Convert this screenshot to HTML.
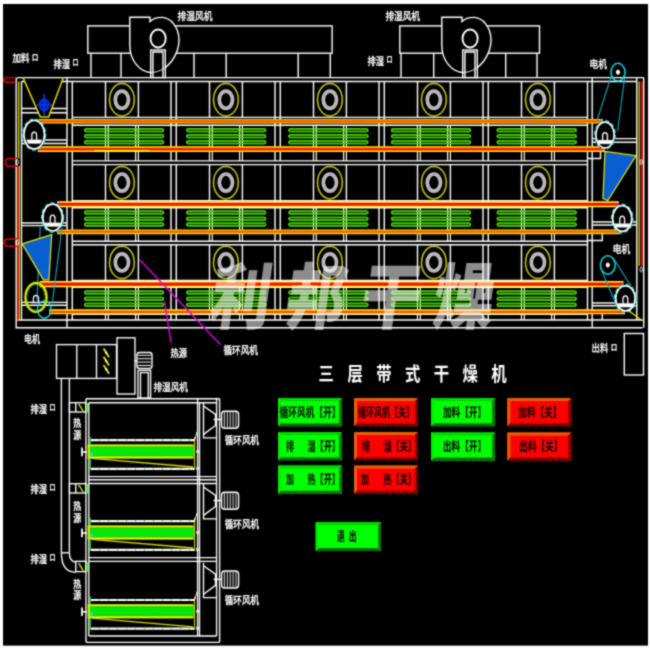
<!DOCTYPE html>
<html lang="zh"><head><meta charset="utf-8"><title>三层带式干燥机</title>
<style>
html,body{margin:0;padding:0;background:#fff;}
body{width:650px;height:650px;overflow:hidden;}
svg{display:block;}
</style></head><body>
<svg width="650" height="650" viewBox="0 0 650 650">
<defs><filter id="soft" color-interpolation-filters="sRGB" x="0" y="0" width="650" height="650" filterUnits="userSpaceOnUse"><feConvolveMatrix order="3" kernelMatrix="1 2 1 2 8 2 1 2 1" edgeMode="duplicate" preserveAlpha="true"/></filter></defs>
<rect x="-5" y="-5" width="660" height="660" fill="#fff"/>
<g filter="url(#soft)">
<rect x="-5" y="-5" width="660" height="660" fill="#fff"/>
<rect x="3" y="4" width="645" height="641.6" fill="#000"/>
<rect x="87.8" y="25.9" width="244.3" height="27.3" stroke="#fff" stroke-width="1.4" fill="none" />
<line x1="91.0" y1="53.2" x2="91.0" y2="77.6" stroke="#fff" stroke-width="1.4" />
<line x1="330.3" y1="53.2" x2="330.3" y2="77.6" stroke="#fff" stroke-width="1.4" />
<line x1="121.0" y1="53.2" x2="121.0" y2="77.6" stroke="#fff" stroke-width="1.4" />
<line x1="194.0" y1="53.2" x2="194.0" y2="77.6" stroke="#fff" stroke-width="1.4" />
<line x1="226.2" y1="53.2" x2="226.2" y2="77.6" stroke="#fff" stroke-width="1.4" />
<line x1="298.2" y1="53.2" x2="298.2" y2="77.6" stroke="#fff" stroke-width="1.4" />
<path d="M129.8,17.2 H150.0 V21.5 C152.5,19 157.0,17.4 161.7,17.4 C170.5,17.4 179.0,27 179.0,40 C179.0,52 172.0,63 164.2,68.3 C160.0,71 156.0,72.5 151.9,72.5 C141.0,72.5 129.8,62 129.8,45 Z" stroke="#fff" stroke-width="1.4" fill="#000" />
<ellipse cx="158.1" cy="38.5" rx="7.6" ry="9.0" stroke="#fff" stroke-width="1.9" fill="none" />
<rect x="150.7" y="50.0" width="14.6" height="27.6" stroke="#fff" stroke-width="1.4" fill="#000" />
<path d="M152.9,77.6 V52 H163.0 V77.6" stroke="#fff" stroke-width="1.4" fill="none" />
<path d="M150.7,72.5 C155.0,72.6 160.0,71.2 165.3,67.6" stroke="#fff" stroke-width="0.9" fill="none" />
<rect x="399.8" y="25.9" width="139.7" height="27.3" stroke="#fff" stroke-width="1.4" fill="none" />
<line x1="401.0" y1="53.2" x2="401.0" y2="77.6" stroke="#fff" stroke-width="1.4" />
<line x1="537.0" y1="53.2" x2="537.0" y2="77.6" stroke="#fff" stroke-width="1.4" />
<line x1="433.7" y1="53.2" x2="433.7" y2="77.6" stroke="#fff" stroke-width="1.4" />
<line x1="505.7" y1="53.2" x2="505.7" y2="77.6" stroke="#fff" stroke-width="1.4" />
<path d="M441.8,17.2 H462.0 V21.5 C464.5,19 469.0,17.4 473.7,17.4 C482.5,17.4 491.0,27 491.0,40 C491.0,52 484.0,63 476.2,68.3 C472.0,71 468.0,72.5 463.9,72.5 C453.0,72.5 441.8,62 441.8,45 Z" stroke="#fff" stroke-width="1.4" fill="#000" />
<ellipse cx="470.1" cy="38.5" rx="7.6" ry="9.0" stroke="#fff" stroke-width="1.9" fill="none" />
<rect x="462.7" y="50.0" width="14.6" height="27.6" stroke="#fff" stroke-width="1.4" fill="#000" />
<path d="M464.9,77.6 V52 H475.0 V77.6" stroke="#fff" stroke-width="1.4" fill="none" />
<path d="M462.7,72.5 C467.0,72.6 472.0,71.2 477.3,67.6" stroke="#fff" stroke-width="0.9" fill="none" />
<path d="M643.7,77.6 H18.2 Q16.2,77.6 16.2,79.6 V327.8 H642.5" stroke="#fff" stroke-width="1.4" fill="none" />
<line x1="21.5" y1="81.5" x2="636.8" y2="81.5" stroke="#fff" stroke-width="1.4" />
<line x1="21.5" y1="81.5" x2="21.5" y2="320.0" stroke="#fff" stroke-width="1.4" />
<line x1="67.0" y1="77.6" x2="67.0" y2="327.8" stroke="#fff" stroke-width="1.4" />
<line x1="72.3" y1="81.5" x2="72.3" y2="320.0" stroke="#fff" stroke-width="1.4" />
<line x1="16.2" y1="320.0" x2="642.5" y2="320.0" stroke="#fff" stroke-width="1.4" />
<line x1="636.8" y1="77.6" x2="636.8" y2="320.0" stroke="#fff" stroke-width="1.4" />
<line x1="643.7" y1="77.6" x2="643.7" y2="327.8" stroke="#fff" stroke-width="1.4" />
<line x1="587.5" y1="81.5" x2="587.5" y2="320.0" stroke="#fff" stroke-width="1.4" />
<line x1="592.2" y1="77.6" x2="592.2" y2="327.8" stroke="#fff" stroke-width="1.4" />
<line x1="72.3" y1="117.4" x2="587.5" y2="117.4" stroke="#fff" stroke-width="1.4" />
<line x1="72.3" y1="125.2" x2="587.5" y2="125.2" stroke="#fff" stroke-width="1.4" />
<line x1="171.0" y1="81.5" x2="171.0" y2="160.9" stroke="#fff" stroke-width="1.4" />
<line x1="105.5" y1="81.5" x2="105.5" y2="117.4" stroke="#fff" stroke-width="1.4" />
<line x1="138.4" y1="81.5" x2="138.4" y2="117.4" stroke="#fff" stroke-width="1.4" />
<ellipse cx="121.9" cy="99.7" rx="12.4" ry="16.2" stroke="#c8c800" stroke-width="1.5" fill="none" />
<ellipse cx="121.9" cy="99.7" rx="6.6" ry="8.6" stroke="#c4c4c4" stroke-width="3.7" fill="none" />
<ellipse cx="121.9" cy="99.7" rx="6.6" ry="8.6" stroke="#9a9a9a" stroke-width="1.2" fill="none" stroke-dasharray="1.2 1.2"/>
<rect x="84.6" y="128.8" width="79.0" height="2.7" stroke="#48d800" stroke-width="1.25" fill="#124400" rx="1.35"/>
<rect x="84.6" y="134.8" width="79.0" height="2.7" stroke="#48d800" stroke-width="1.25" fill="#124400" rx="1.35"/>
<rect x="84.6" y="140.8" width="79.0" height="2.7" stroke="#48d800" stroke-width="1.25" fill="#124400" rx="1.35"/>
<line x1="105.5" y1="125.2" x2="105.5" y2="160.9" stroke="#fff" stroke-width="1.2" />
<line x1="108.3" y1="125.2" x2="108.3" y2="160.9" stroke="#fff" stroke-width="1.2" />
<line x1="135.6" y1="125.2" x2="135.6" y2="160.9" stroke="#fff" stroke-width="1.2" />
<line x1="138.4" y1="125.2" x2="138.4" y2="160.9" stroke="#fff" stroke-width="1.2" />
<rect x="84.6" y="128.8" width="79.0" height="2.7" stroke="#48d800" stroke-width="1.25" fill="none" rx="1.35"/>
<rect x="84.6" y="134.8" width="79.0" height="2.7" stroke="#48d800" stroke-width="1.25" fill="none" rx="1.35"/>
<rect x="84.6" y="140.8" width="79.0" height="2.7" stroke="#48d800" stroke-width="1.25" fill="none" rx="1.35"/>
<line x1="176.3" y1="81.5" x2="176.3" y2="160.9" stroke="#fff" stroke-width="1.4" />
<line x1="275.0" y1="81.5" x2="275.0" y2="160.9" stroke="#fff" stroke-width="1.4" />
<line x1="209.5" y1="81.5" x2="209.5" y2="117.4" stroke="#fff" stroke-width="1.4" />
<line x1="242.4" y1="81.5" x2="242.4" y2="117.4" stroke="#fff" stroke-width="1.4" />
<ellipse cx="225.9" cy="99.7" rx="12.4" ry="16.2" stroke="#c8c800" stroke-width="1.5" fill="none" />
<ellipse cx="225.9" cy="99.7" rx="6.6" ry="8.6" stroke="#c4c4c4" stroke-width="3.7" fill="none" />
<ellipse cx="225.9" cy="99.7" rx="6.6" ry="8.6" stroke="#9a9a9a" stroke-width="1.2" fill="none" stroke-dasharray="1.2 1.2"/>
<rect x="186.7" y="128.8" width="79.0" height="2.7" stroke="#48d800" stroke-width="1.25" fill="#124400" rx="1.35"/>
<rect x="186.7" y="134.8" width="79.0" height="2.7" stroke="#48d800" stroke-width="1.25" fill="#124400" rx="1.35"/>
<rect x="186.7" y="140.8" width="79.0" height="2.7" stroke="#48d800" stroke-width="1.25" fill="#124400" rx="1.35"/>
<line x1="209.5" y1="125.2" x2="209.5" y2="160.9" stroke="#fff" stroke-width="1.2" />
<line x1="212.3" y1="125.2" x2="212.3" y2="160.9" stroke="#fff" stroke-width="1.2" />
<line x1="239.6" y1="125.2" x2="239.6" y2="160.9" stroke="#fff" stroke-width="1.2" />
<line x1="242.4" y1="125.2" x2="242.4" y2="160.9" stroke="#fff" stroke-width="1.2" />
<rect x="186.7" y="128.8" width="79.0" height="2.7" stroke="#48d800" stroke-width="1.25" fill="none" rx="1.35"/>
<rect x="186.7" y="134.8" width="79.0" height="2.7" stroke="#48d800" stroke-width="1.25" fill="none" rx="1.35"/>
<rect x="186.7" y="140.8" width="79.0" height="2.7" stroke="#48d800" stroke-width="1.25" fill="none" rx="1.35"/>
<line x1="280.3" y1="81.5" x2="280.3" y2="160.9" stroke="#fff" stroke-width="1.4" />
<line x1="379.0" y1="81.5" x2="379.0" y2="160.9" stroke="#fff" stroke-width="1.4" />
<line x1="313.5" y1="81.5" x2="313.5" y2="117.4" stroke="#fff" stroke-width="1.4" />
<line x1="346.4" y1="81.5" x2="346.4" y2="117.4" stroke="#fff" stroke-width="1.4" />
<ellipse cx="329.9" cy="99.7" rx="12.4" ry="16.2" stroke="#c8c800" stroke-width="1.5" fill="none" />
<ellipse cx="329.9" cy="99.7" rx="6.6" ry="8.6" stroke="#c4c4c4" stroke-width="3.7" fill="none" />
<ellipse cx="329.9" cy="99.7" rx="6.6" ry="8.6" stroke="#9a9a9a" stroke-width="1.2" fill="none" stroke-dasharray="1.2 1.2"/>
<rect x="288.9" y="128.8" width="79.0" height="2.7" stroke="#48d800" stroke-width="1.25" fill="#124400" rx="1.35"/>
<rect x="288.9" y="134.8" width="79.0" height="2.7" stroke="#48d800" stroke-width="1.25" fill="#124400" rx="1.35"/>
<rect x="288.9" y="140.8" width="79.0" height="2.7" stroke="#48d800" stroke-width="1.25" fill="#124400" rx="1.35"/>
<line x1="313.5" y1="125.2" x2="313.5" y2="160.9" stroke="#fff" stroke-width="1.2" />
<line x1="316.3" y1="125.2" x2="316.3" y2="160.9" stroke="#fff" stroke-width="1.2" />
<line x1="343.6" y1="125.2" x2="343.6" y2="160.9" stroke="#fff" stroke-width="1.2" />
<line x1="346.4" y1="125.2" x2="346.4" y2="160.9" stroke="#fff" stroke-width="1.2" />
<rect x="288.9" y="128.8" width="79.0" height="2.7" stroke="#48d800" stroke-width="1.25" fill="none" rx="1.35"/>
<rect x="288.9" y="134.8" width="79.0" height="2.7" stroke="#48d800" stroke-width="1.25" fill="none" rx="1.35"/>
<rect x="288.9" y="140.8" width="79.0" height="2.7" stroke="#48d800" stroke-width="1.25" fill="none" rx="1.35"/>
<line x1="384.3" y1="81.5" x2="384.3" y2="160.9" stroke="#fff" stroke-width="1.4" />
<line x1="483.0" y1="81.5" x2="483.0" y2="160.9" stroke="#fff" stroke-width="1.4" />
<line x1="417.5" y1="81.5" x2="417.5" y2="117.4" stroke="#fff" stroke-width="1.4" />
<line x1="450.4" y1="81.5" x2="450.4" y2="117.4" stroke="#fff" stroke-width="1.4" />
<ellipse cx="433.9" cy="99.7" rx="12.4" ry="16.2" stroke="#c8c800" stroke-width="1.5" fill="none" />
<ellipse cx="433.9" cy="99.7" rx="6.6" ry="8.6" stroke="#c4c4c4" stroke-width="3.7" fill="none" />
<ellipse cx="433.9" cy="99.7" rx="6.6" ry="8.6" stroke="#9a9a9a" stroke-width="1.2" fill="none" stroke-dasharray="1.2 1.2"/>
<rect x="391.5" y="128.8" width="79.0" height="2.7" stroke="#48d800" stroke-width="1.25" fill="#124400" rx="1.35"/>
<rect x="391.5" y="134.8" width="79.0" height="2.7" stroke="#48d800" stroke-width="1.25" fill="#124400" rx="1.35"/>
<rect x="391.5" y="140.8" width="79.0" height="2.7" stroke="#48d800" stroke-width="1.25" fill="#124400" rx="1.35"/>
<line x1="417.5" y1="125.2" x2="417.5" y2="160.9" stroke="#fff" stroke-width="1.2" />
<line x1="420.3" y1="125.2" x2="420.3" y2="160.9" stroke="#fff" stroke-width="1.2" />
<line x1="447.6" y1="125.2" x2="447.6" y2="160.9" stroke="#fff" stroke-width="1.2" />
<line x1="450.4" y1="125.2" x2="450.4" y2="160.9" stroke="#fff" stroke-width="1.2" />
<rect x="391.5" y="128.8" width="79.0" height="2.7" stroke="#48d800" stroke-width="1.25" fill="none" rx="1.35"/>
<rect x="391.5" y="134.8" width="79.0" height="2.7" stroke="#48d800" stroke-width="1.25" fill="none" rx="1.35"/>
<rect x="391.5" y="140.8" width="79.0" height="2.7" stroke="#48d800" stroke-width="1.25" fill="none" rx="1.35"/>
<line x1="488.3" y1="81.5" x2="488.3" y2="160.9" stroke="#fff" stroke-width="1.4" />
<line x1="521.5" y1="81.5" x2="521.5" y2="117.4" stroke="#fff" stroke-width="1.4" />
<line x1="554.4" y1="81.5" x2="554.4" y2="117.4" stroke="#fff" stroke-width="1.4" />
<ellipse cx="537.9" cy="99.7" rx="12.4" ry="16.2" stroke="#c8c800" stroke-width="1.5" fill="none" />
<ellipse cx="537.9" cy="99.7" rx="6.6" ry="8.6" stroke="#c4c4c4" stroke-width="3.7" fill="none" />
<ellipse cx="537.9" cy="99.7" rx="6.6" ry="8.6" stroke="#9a9a9a" stroke-width="1.2" fill="none" stroke-dasharray="1.2 1.2"/>
<rect x="497.2" y="128.8" width="79.0" height="2.7" stroke="#48d800" stroke-width="1.25" fill="#124400" rx="1.35"/>
<rect x="497.2" y="134.8" width="79.0" height="2.7" stroke="#48d800" stroke-width="1.25" fill="#124400" rx="1.35"/>
<rect x="497.2" y="140.8" width="79.0" height="2.7" stroke="#48d800" stroke-width="1.25" fill="#124400" rx="1.35"/>
<line x1="521.5" y1="125.2" x2="521.5" y2="160.9" stroke="#fff" stroke-width="1.2" />
<line x1="524.3" y1="125.2" x2="524.3" y2="160.9" stroke="#fff" stroke-width="1.2" />
<line x1="551.6" y1="125.2" x2="551.6" y2="160.9" stroke="#fff" stroke-width="1.2" />
<line x1="554.4" y1="125.2" x2="554.4" y2="160.9" stroke="#fff" stroke-width="1.2" />
<rect x="497.2" y="128.8" width="79.0" height="2.7" stroke="#48d800" stroke-width="1.25" fill="none" rx="1.35"/>
<rect x="497.2" y="134.8" width="79.0" height="2.7" stroke="#48d800" stroke-width="1.25" fill="none" rx="1.35"/>
<rect x="497.2" y="140.8" width="79.0" height="2.7" stroke="#48d800" stroke-width="1.25" fill="none" rx="1.35"/>
<line x1="72.3" y1="160.9" x2="587.5" y2="160.9" stroke="#fff" stroke-width="1.4" />
<line x1="72.3" y1="164.6" x2="587.5" y2="164.6" stroke="#fff" stroke-width="1.4" />
<line x1="72.3" y1="200.8" x2="587.5" y2="200.8" stroke="#fff" stroke-width="1.4" />
<line x1="72.3" y1="207.7" x2="587.5" y2="207.7" stroke="#fff" stroke-width="1.4" />
<line x1="171.0" y1="164.6" x2="171.0" y2="241.2" stroke="#fff" stroke-width="1.4" />
<line x1="105.5" y1="164.6" x2="105.5" y2="200.8" stroke="#fff" stroke-width="1.4" />
<line x1="138.4" y1="164.6" x2="138.4" y2="200.8" stroke="#fff" stroke-width="1.4" />
<ellipse cx="121.9" cy="182.6" rx="12.4" ry="16.2" stroke="#c8c800" stroke-width="1.5" fill="none" />
<ellipse cx="121.9" cy="182.6" rx="6.6" ry="8.6" stroke="#c4c4c4" stroke-width="3.7" fill="none" />
<ellipse cx="121.9" cy="182.6" rx="6.6" ry="8.6" stroke="#9a9a9a" stroke-width="1.2" fill="none" stroke-dasharray="1.2 1.2"/>
<rect x="84.6" y="211.2" width="79.0" height="2.7" stroke="#48d800" stroke-width="1.25" fill="#124400" rx="1.35"/>
<rect x="84.6" y="217.3" width="79.0" height="2.7" stroke="#48d800" stroke-width="1.25" fill="#124400" rx="1.35"/>
<rect x="84.6" y="223.2" width="79.0" height="2.7" stroke="#48d800" stroke-width="1.25" fill="#124400" rx="1.35"/>
<line x1="105.5" y1="207.7" x2="105.5" y2="241.2" stroke="#fff" stroke-width="1.2" />
<line x1="108.3" y1="207.7" x2="108.3" y2="241.2" stroke="#fff" stroke-width="1.2" />
<line x1="135.6" y1="207.7" x2="135.6" y2="241.2" stroke="#fff" stroke-width="1.2" />
<line x1="138.4" y1="207.7" x2="138.4" y2="241.2" stroke="#fff" stroke-width="1.2" />
<rect x="84.6" y="211.2" width="79.0" height="2.7" stroke="#48d800" stroke-width="1.25" fill="none" rx="1.35"/>
<rect x="84.6" y="217.3" width="79.0" height="2.7" stroke="#48d800" stroke-width="1.25" fill="none" rx="1.35"/>
<rect x="84.6" y="223.2" width="79.0" height="2.7" stroke="#48d800" stroke-width="1.25" fill="none" rx="1.35"/>
<line x1="176.3" y1="164.6" x2="176.3" y2="241.2" stroke="#fff" stroke-width="1.4" />
<line x1="275.0" y1="164.6" x2="275.0" y2="241.2" stroke="#fff" stroke-width="1.4" />
<line x1="209.5" y1="164.6" x2="209.5" y2="200.8" stroke="#fff" stroke-width="1.4" />
<line x1="242.4" y1="164.6" x2="242.4" y2="200.8" stroke="#fff" stroke-width="1.4" />
<ellipse cx="225.9" cy="182.6" rx="12.4" ry="16.2" stroke="#c8c800" stroke-width="1.5" fill="none" />
<ellipse cx="225.9" cy="182.6" rx="6.6" ry="8.6" stroke="#c4c4c4" stroke-width="3.7" fill="none" />
<ellipse cx="225.9" cy="182.6" rx="6.6" ry="8.6" stroke="#9a9a9a" stroke-width="1.2" fill="none" stroke-dasharray="1.2 1.2"/>
<rect x="186.7" y="211.2" width="79.0" height="2.7" stroke="#48d800" stroke-width="1.25" fill="#124400" rx="1.35"/>
<rect x="186.7" y="217.3" width="79.0" height="2.7" stroke="#48d800" stroke-width="1.25" fill="#124400" rx="1.35"/>
<rect x="186.7" y="223.2" width="79.0" height="2.7" stroke="#48d800" stroke-width="1.25" fill="#124400" rx="1.35"/>
<line x1="209.5" y1="207.7" x2="209.5" y2="241.2" stroke="#fff" stroke-width="1.2" />
<line x1="212.3" y1="207.7" x2="212.3" y2="241.2" stroke="#fff" stroke-width="1.2" />
<line x1="239.6" y1="207.7" x2="239.6" y2="241.2" stroke="#fff" stroke-width="1.2" />
<line x1="242.4" y1="207.7" x2="242.4" y2="241.2" stroke="#fff" stroke-width="1.2" />
<rect x="186.7" y="211.2" width="79.0" height="2.7" stroke="#48d800" stroke-width="1.25" fill="none" rx="1.35"/>
<rect x="186.7" y="217.3" width="79.0" height="2.7" stroke="#48d800" stroke-width="1.25" fill="none" rx="1.35"/>
<rect x="186.7" y="223.2" width="79.0" height="2.7" stroke="#48d800" stroke-width="1.25" fill="none" rx="1.35"/>
<line x1="280.3" y1="164.6" x2="280.3" y2="241.2" stroke="#fff" stroke-width="1.4" />
<line x1="379.0" y1="164.6" x2="379.0" y2="241.2" stroke="#fff" stroke-width="1.4" />
<line x1="313.5" y1="164.6" x2="313.5" y2="200.8" stroke="#fff" stroke-width="1.4" />
<line x1="346.4" y1="164.6" x2="346.4" y2="200.8" stroke="#fff" stroke-width="1.4" />
<ellipse cx="329.9" cy="182.6" rx="12.4" ry="16.2" stroke="#c8c800" stroke-width="1.5" fill="none" />
<ellipse cx="329.9" cy="182.6" rx="6.6" ry="8.6" stroke="#c4c4c4" stroke-width="3.7" fill="none" />
<ellipse cx="329.9" cy="182.6" rx="6.6" ry="8.6" stroke="#9a9a9a" stroke-width="1.2" fill="none" stroke-dasharray="1.2 1.2"/>
<rect x="288.9" y="211.2" width="79.0" height="2.7" stroke="#48d800" stroke-width="1.25" fill="#124400" rx="1.35"/>
<rect x="288.9" y="217.3" width="79.0" height="2.7" stroke="#48d800" stroke-width="1.25" fill="#124400" rx="1.35"/>
<rect x="288.9" y="223.2" width="79.0" height="2.7" stroke="#48d800" stroke-width="1.25" fill="#124400" rx="1.35"/>
<line x1="313.5" y1="207.7" x2="313.5" y2="241.2" stroke="#fff" stroke-width="1.2" />
<line x1="316.3" y1="207.7" x2="316.3" y2="241.2" stroke="#fff" stroke-width="1.2" />
<line x1="343.6" y1="207.7" x2="343.6" y2="241.2" stroke="#fff" stroke-width="1.2" />
<line x1="346.4" y1="207.7" x2="346.4" y2="241.2" stroke="#fff" stroke-width="1.2" />
<rect x="288.9" y="211.2" width="79.0" height="2.7" stroke="#48d800" stroke-width="1.25" fill="none" rx="1.35"/>
<rect x="288.9" y="217.3" width="79.0" height="2.7" stroke="#48d800" stroke-width="1.25" fill="none" rx="1.35"/>
<rect x="288.9" y="223.2" width="79.0" height="2.7" stroke="#48d800" stroke-width="1.25" fill="none" rx="1.35"/>
<line x1="384.3" y1="164.6" x2="384.3" y2="241.2" stroke="#fff" stroke-width="1.4" />
<line x1="483.0" y1="164.6" x2="483.0" y2="241.2" stroke="#fff" stroke-width="1.4" />
<line x1="417.5" y1="164.6" x2="417.5" y2="200.8" stroke="#fff" stroke-width="1.4" />
<line x1="450.4" y1="164.6" x2="450.4" y2="200.8" stroke="#fff" stroke-width="1.4" />
<ellipse cx="433.9" cy="182.6" rx="12.4" ry="16.2" stroke="#c8c800" stroke-width="1.5" fill="none" />
<ellipse cx="433.9" cy="182.6" rx="6.6" ry="8.6" stroke="#c4c4c4" stroke-width="3.7" fill="none" />
<ellipse cx="433.9" cy="182.6" rx="6.6" ry="8.6" stroke="#9a9a9a" stroke-width="1.2" fill="none" stroke-dasharray="1.2 1.2"/>
<rect x="391.5" y="211.2" width="79.0" height="2.7" stroke="#48d800" stroke-width="1.25" fill="#124400" rx="1.35"/>
<rect x="391.5" y="217.3" width="79.0" height="2.7" stroke="#48d800" stroke-width="1.25" fill="#124400" rx="1.35"/>
<rect x="391.5" y="223.2" width="79.0" height="2.7" stroke="#48d800" stroke-width="1.25" fill="#124400" rx="1.35"/>
<line x1="417.5" y1="207.7" x2="417.5" y2="241.2" stroke="#fff" stroke-width="1.2" />
<line x1="420.3" y1="207.7" x2="420.3" y2="241.2" stroke="#fff" stroke-width="1.2" />
<line x1="447.6" y1="207.7" x2="447.6" y2="241.2" stroke="#fff" stroke-width="1.2" />
<line x1="450.4" y1="207.7" x2="450.4" y2="241.2" stroke="#fff" stroke-width="1.2" />
<rect x="391.5" y="211.2" width="79.0" height="2.7" stroke="#48d800" stroke-width="1.25" fill="none" rx="1.35"/>
<rect x="391.5" y="217.3" width="79.0" height="2.7" stroke="#48d800" stroke-width="1.25" fill="none" rx="1.35"/>
<rect x="391.5" y="223.2" width="79.0" height="2.7" stroke="#48d800" stroke-width="1.25" fill="none" rx="1.35"/>
<line x1="488.3" y1="164.6" x2="488.3" y2="241.2" stroke="#fff" stroke-width="1.4" />
<line x1="521.5" y1="164.6" x2="521.5" y2="200.8" stroke="#fff" stroke-width="1.4" />
<line x1="554.4" y1="164.6" x2="554.4" y2="200.8" stroke="#fff" stroke-width="1.4" />
<ellipse cx="537.9" cy="182.6" rx="12.4" ry="16.2" stroke="#c8c800" stroke-width="1.5" fill="none" />
<ellipse cx="537.9" cy="182.6" rx="6.6" ry="8.6" stroke="#c4c4c4" stroke-width="3.7" fill="none" />
<ellipse cx="537.9" cy="182.6" rx="6.6" ry="8.6" stroke="#9a9a9a" stroke-width="1.2" fill="none" stroke-dasharray="1.2 1.2"/>
<rect x="497.2" y="211.2" width="79.0" height="2.7" stroke="#48d800" stroke-width="1.25" fill="#124400" rx="1.35"/>
<rect x="497.2" y="217.3" width="79.0" height="2.7" stroke="#48d800" stroke-width="1.25" fill="#124400" rx="1.35"/>
<rect x="497.2" y="223.2" width="79.0" height="2.7" stroke="#48d800" stroke-width="1.25" fill="#124400" rx="1.35"/>
<line x1="521.5" y1="207.7" x2="521.5" y2="241.2" stroke="#fff" stroke-width="1.2" />
<line x1="524.3" y1="207.7" x2="524.3" y2="241.2" stroke="#fff" stroke-width="1.2" />
<line x1="551.6" y1="207.7" x2="551.6" y2="241.2" stroke="#fff" stroke-width="1.2" />
<line x1="554.4" y1="207.7" x2="554.4" y2="241.2" stroke="#fff" stroke-width="1.2" />
<rect x="497.2" y="211.2" width="79.0" height="2.7" stroke="#48d800" stroke-width="1.25" fill="none" rx="1.35"/>
<rect x="497.2" y="217.3" width="79.0" height="2.7" stroke="#48d800" stroke-width="1.25" fill="none" rx="1.35"/>
<rect x="497.2" y="223.2" width="79.0" height="2.7" stroke="#48d800" stroke-width="1.25" fill="none" rx="1.35"/>
<line x1="72.3" y1="241.2" x2="587.5" y2="241.2" stroke="#fff" stroke-width="1.4" />
<line x1="72.3" y1="244.7" x2="587.5" y2="244.7" stroke="#fff" stroke-width="1.4" />
<line x1="72.3" y1="280.4" x2="587.5" y2="280.4" stroke="#fff" stroke-width="1.4" />
<line x1="72.3" y1="287.3" x2="587.5" y2="287.3" stroke="#fff" stroke-width="1.4" />
<line x1="171.0" y1="244.7" x2="171.0" y2="320.0" stroke="#fff" stroke-width="1.4" />
<line x1="105.5" y1="244.7" x2="105.5" y2="280.4" stroke="#fff" stroke-width="1.4" />
<line x1="138.4" y1="244.7" x2="138.4" y2="280.4" stroke="#fff" stroke-width="1.4" />
<ellipse cx="121.9" cy="262.4" rx="12.4" ry="16.2" stroke="#c8c800" stroke-width="1.5" fill="none" />
<ellipse cx="121.9" cy="262.4" rx="6.6" ry="8.6" stroke="#c4c4c4" stroke-width="3.7" fill="none" />
<ellipse cx="121.9" cy="262.4" rx="6.6" ry="8.6" stroke="#9a9a9a" stroke-width="1.2" fill="none" stroke-dasharray="1.2 1.2"/>
<rect x="84.6" y="291.1" width="79.0" height="2.7" stroke="#48d800" stroke-width="1.25" fill="#124400" rx="1.35"/>
<rect x="84.6" y="297.3" width="79.0" height="2.7" stroke="#48d800" stroke-width="1.25" fill="#124400" rx="1.35"/>
<rect x="84.6" y="303.4" width="79.0" height="2.7" stroke="#48d800" stroke-width="1.25" fill="#124400" rx="1.35"/>
<line x1="105.5" y1="287.3" x2="105.5" y2="320.0" stroke="#fff" stroke-width="1.2" />
<line x1="108.3" y1="287.3" x2="108.3" y2="320.0" stroke="#fff" stroke-width="1.2" />
<line x1="135.6" y1="287.3" x2="135.6" y2="320.0" stroke="#fff" stroke-width="1.2" />
<line x1="138.4" y1="287.3" x2="138.4" y2="320.0" stroke="#fff" stroke-width="1.2" />
<rect x="84.6" y="291.1" width="79.0" height="2.7" stroke="#48d800" stroke-width="1.25" fill="none" rx="1.35"/>
<rect x="84.6" y="297.3" width="79.0" height="2.7" stroke="#48d800" stroke-width="1.25" fill="none" rx="1.35"/>
<rect x="84.6" y="303.4" width="79.0" height="2.7" stroke="#48d800" stroke-width="1.25" fill="none" rx="1.35"/>
<line x1="176.3" y1="244.7" x2="176.3" y2="320.0" stroke="#fff" stroke-width="1.4" />
<line x1="275.0" y1="244.7" x2="275.0" y2="320.0" stroke="#fff" stroke-width="1.4" />
<line x1="209.5" y1="244.7" x2="209.5" y2="280.4" stroke="#fff" stroke-width="1.4" />
<line x1="242.4" y1="244.7" x2="242.4" y2="280.4" stroke="#fff" stroke-width="1.4" />
<ellipse cx="225.9" cy="262.4" rx="12.4" ry="16.2" stroke="#c8c800" stroke-width="1.5" fill="none" />
<ellipse cx="225.9" cy="262.4" rx="6.6" ry="8.6" stroke="#c4c4c4" stroke-width="3.7" fill="none" />
<ellipse cx="225.9" cy="262.4" rx="6.6" ry="8.6" stroke="#9a9a9a" stroke-width="1.2" fill="none" stroke-dasharray="1.2 1.2"/>
<rect x="186.7" y="291.1" width="79.0" height="2.7" stroke="#48d800" stroke-width="1.25" fill="#124400" rx="1.35"/>
<rect x="186.7" y="297.3" width="79.0" height="2.7" stroke="#48d800" stroke-width="1.25" fill="#124400" rx="1.35"/>
<rect x="186.7" y="303.4" width="79.0" height="2.7" stroke="#48d800" stroke-width="1.25" fill="#124400" rx="1.35"/>
<line x1="209.5" y1="287.3" x2="209.5" y2="320.0" stroke="#fff" stroke-width="1.2" />
<line x1="212.3" y1="287.3" x2="212.3" y2="320.0" stroke="#fff" stroke-width="1.2" />
<line x1="239.6" y1="287.3" x2="239.6" y2="320.0" stroke="#fff" stroke-width="1.2" />
<line x1="242.4" y1="287.3" x2="242.4" y2="320.0" stroke="#fff" stroke-width="1.2" />
<rect x="186.7" y="291.1" width="79.0" height="2.7" stroke="#48d800" stroke-width="1.25" fill="none" rx="1.35"/>
<rect x="186.7" y="297.3" width="79.0" height="2.7" stroke="#48d800" stroke-width="1.25" fill="none" rx="1.35"/>
<rect x="186.7" y="303.4" width="79.0" height="2.7" stroke="#48d800" stroke-width="1.25" fill="none" rx="1.35"/>
<line x1="280.3" y1="244.7" x2="280.3" y2="320.0" stroke="#fff" stroke-width="1.4" />
<line x1="379.0" y1="244.7" x2="379.0" y2="320.0" stroke="#fff" stroke-width="1.4" />
<line x1="313.5" y1="244.7" x2="313.5" y2="280.4" stroke="#fff" stroke-width="1.4" />
<line x1="346.4" y1="244.7" x2="346.4" y2="280.4" stroke="#fff" stroke-width="1.4" />
<ellipse cx="329.9" cy="262.4" rx="12.4" ry="16.2" stroke="#c8c800" stroke-width="1.5" fill="none" />
<ellipse cx="329.9" cy="262.4" rx="6.6" ry="8.6" stroke="#c4c4c4" stroke-width="3.7" fill="none" />
<ellipse cx="329.9" cy="262.4" rx="6.6" ry="8.6" stroke="#9a9a9a" stroke-width="1.2" fill="none" stroke-dasharray="1.2 1.2"/>
<rect x="288.9" y="291.1" width="79.0" height="2.7" stroke="#48d800" stroke-width="1.25" fill="#124400" rx="1.35"/>
<rect x="288.9" y="297.3" width="79.0" height="2.7" stroke="#48d800" stroke-width="1.25" fill="#124400" rx="1.35"/>
<rect x="288.9" y="303.4" width="79.0" height="2.7" stroke="#48d800" stroke-width="1.25" fill="#124400" rx="1.35"/>
<line x1="313.5" y1="287.3" x2="313.5" y2="320.0" stroke="#fff" stroke-width="1.2" />
<line x1="316.3" y1="287.3" x2="316.3" y2="320.0" stroke="#fff" stroke-width="1.2" />
<line x1="343.6" y1="287.3" x2="343.6" y2="320.0" stroke="#fff" stroke-width="1.2" />
<line x1="346.4" y1="287.3" x2="346.4" y2="320.0" stroke="#fff" stroke-width="1.2" />
<rect x="288.9" y="291.1" width="79.0" height="2.7" stroke="#48d800" stroke-width="1.25" fill="none" rx="1.35"/>
<rect x="288.9" y="297.3" width="79.0" height="2.7" stroke="#48d800" stroke-width="1.25" fill="none" rx="1.35"/>
<rect x="288.9" y="303.4" width="79.0" height="2.7" stroke="#48d800" stroke-width="1.25" fill="none" rx="1.35"/>
<line x1="384.3" y1="244.7" x2="384.3" y2="320.0" stroke="#fff" stroke-width="1.4" />
<line x1="483.0" y1="244.7" x2="483.0" y2="320.0" stroke="#fff" stroke-width="1.4" />
<line x1="417.5" y1="244.7" x2="417.5" y2="280.4" stroke="#fff" stroke-width="1.4" />
<line x1="450.4" y1="244.7" x2="450.4" y2="280.4" stroke="#fff" stroke-width="1.4" />
<ellipse cx="433.9" cy="262.4" rx="12.4" ry="16.2" stroke="#c8c800" stroke-width="1.5" fill="none" />
<ellipse cx="433.9" cy="262.4" rx="6.6" ry="8.6" stroke="#c4c4c4" stroke-width="3.7" fill="none" />
<ellipse cx="433.9" cy="262.4" rx="6.6" ry="8.6" stroke="#9a9a9a" stroke-width="1.2" fill="none" stroke-dasharray="1.2 1.2"/>
<rect x="391.5" y="291.1" width="79.0" height="2.7" stroke="#48d800" stroke-width="1.25" fill="#124400" rx="1.35"/>
<rect x="391.5" y="297.3" width="79.0" height="2.7" stroke="#48d800" stroke-width="1.25" fill="#124400" rx="1.35"/>
<rect x="391.5" y="303.4" width="79.0" height="2.7" stroke="#48d800" stroke-width="1.25" fill="#124400" rx="1.35"/>
<line x1="417.5" y1="287.3" x2="417.5" y2="320.0" stroke="#fff" stroke-width="1.2" />
<line x1="420.3" y1="287.3" x2="420.3" y2="320.0" stroke="#fff" stroke-width="1.2" />
<line x1="447.6" y1="287.3" x2="447.6" y2="320.0" stroke="#fff" stroke-width="1.2" />
<line x1="450.4" y1="287.3" x2="450.4" y2="320.0" stroke="#fff" stroke-width="1.2" />
<rect x="391.5" y="291.1" width="79.0" height="2.7" stroke="#48d800" stroke-width="1.25" fill="none" rx="1.35"/>
<rect x="391.5" y="297.3" width="79.0" height="2.7" stroke="#48d800" stroke-width="1.25" fill="none" rx="1.35"/>
<rect x="391.5" y="303.4" width="79.0" height="2.7" stroke="#48d800" stroke-width="1.25" fill="none" rx="1.35"/>
<line x1="488.3" y1="244.7" x2="488.3" y2="320.0" stroke="#fff" stroke-width="1.4" />
<line x1="521.5" y1="244.7" x2="521.5" y2="280.4" stroke="#fff" stroke-width="1.4" />
<line x1="554.4" y1="244.7" x2="554.4" y2="280.4" stroke="#fff" stroke-width="1.4" />
<ellipse cx="537.9" cy="262.4" rx="12.4" ry="16.2" stroke="#c8c800" stroke-width="1.5" fill="none" />
<ellipse cx="537.9" cy="262.4" rx="6.6" ry="8.6" stroke="#c4c4c4" stroke-width="3.7" fill="none" />
<ellipse cx="537.9" cy="262.4" rx="6.6" ry="8.6" stroke="#9a9a9a" stroke-width="1.2" fill="none" stroke-dasharray="1.2 1.2"/>
<rect x="497.2" y="291.1" width="79.0" height="2.7" stroke="#48d800" stroke-width="1.25" fill="#124400" rx="1.35"/>
<rect x="497.2" y="297.3" width="79.0" height="2.7" stroke="#48d800" stroke-width="1.25" fill="#124400" rx="1.35"/>
<rect x="497.2" y="303.4" width="79.0" height="2.7" stroke="#48d800" stroke-width="1.25" fill="#124400" rx="1.35"/>
<line x1="521.5" y1="287.3" x2="521.5" y2="320.0" stroke="#fff" stroke-width="1.2" />
<line x1="524.3" y1="287.3" x2="524.3" y2="320.0" stroke="#fff" stroke-width="1.2" />
<line x1="551.6" y1="287.3" x2="551.6" y2="320.0" stroke="#fff" stroke-width="1.2" />
<line x1="554.4" y1="287.3" x2="554.4" y2="320.0" stroke="#fff" stroke-width="1.2" />
<rect x="497.2" y="291.1" width="79.0" height="2.7" stroke="#48d800" stroke-width="1.25" fill="none" rx="1.35"/>
<rect x="497.2" y="297.3" width="79.0" height="2.7" stroke="#48d800" stroke-width="1.25" fill="none" rx="1.35"/>
<rect x="497.2" y="303.4" width="79.0" height="2.7" stroke="#48d800" stroke-width="1.25" fill="none" rx="1.35"/>
<line x1="21.5" y1="108.5" x2="67.0" y2="108.5" stroke="#fff" stroke-width="1.4" />
<line x1="21.5" y1="112.8" x2="67.0" y2="112.8" stroke="#fff" stroke-width="1.4" />
<line x1="21.5" y1="140.0" x2="67.0" y2="140.0" stroke="#fff" stroke-width="1.4" />
<line x1="21.5" y1="143.5" x2="67.0" y2="143.5" stroke="#fff" stroke-width="1.4" />
<line x1="21.5" y1="223.0" x2="67.0" y2="223.0" stroke="#fff" stroke-width="1.4" />
<line x1="21.5" y1="225.6" x2="67.0" y2="225.6" stroke="#fff" stroke-width="1.4" />
<line x1="21.5" y1="302.4" x2="67.0" y2="302.4" stroke="#fff" stroke-width="1.4" />
<line x1="21.5" y1="305.3" x2="67.0" y2="305.3" stroke="#fff" stroke-width="1.4" />
<line x1="592.2" y1="138.6" x2="636.8" y2="138.6" stroke="#fff" stroke-width="1.4" />
<line x1="592.2" y1="142.3" x2="636.8" y2="142.3" stroke="#fff" stroke-width="1.4" />
<line x1="592.2" y1="222.0" x2="636.8" y2="222.0" stroke="#fff" stroke-width="1.4" />
<line x1="592.2" y1="225.0" x2="636.8" y2="225.0" stroke="#fff" stroke-width="1.4" />
<line x1="592.2" y1="303.0" x2="636.8" y2="303.0" stroke="#fff" stroke-width="1.4" />
<line x1="592.2" y1="305.7" x2="636.8" y2="305.7" stroke="#fff" stroke-width="1.4" />
<path d="M587.5,158.5 H600.5 V150.5" stroke="#fff" stroke-width="1.4" fill="none" />
<path d="M587.5,240.5 H602.3 V231" stroke="#fff" stroke-width="1.4" fill="none" />
<path d="M602.3,310 V320" stroke="#fff" stroke-width="1.4" fill="none" />
<line x1="38.5" y1="121.3" x2="603.0" y2="121.3" stroke="#f0d400" stroke-width="4.6" />
<line x1="38.5" y1="121.3" x2="603.0" y2="121.3" stroke="#ff4000" stroke-width="1.9999999999999998" />
<line x1="37.7" y1="149.1" x2="605.0" y2="149.1" stroke="#fff000" stroke-width="5.6" />
<line x1="37.7" y1="149.1" x2="605.0" y2="149.1" stroke="#ff1400" stroke-width="2.5999999999999996" />
<line x1="57.0" y1="204.2" x2="619.0" y2="204.2" stroke="#ffff30" stroke-width="6.1" />
<line x1="57.0" y1="204.2" x2="619.0" y2="204.2" stroke="#ff0800" stroke-width="3.0999999999999996" />
<line x1="57.0" y1="231.8" x2="620.7" y2="231.8" stroke="#f0d800" stroke-width="4.7" />
<line x1="57.0" y1="231.8" x2="620.7" y2="231.8" stroke="#ff5000" stroke-width="2.0999999999999996" />
<line x1="39.7" y1="284.1" x2="623.5" y2="284.1" stroke="#ffff30" stroke-width="6.1" />
<line x1="39.7" y1="284.1" x2="623.5" y2="284.1" stroke="#ff0800" stroke-width="3.0999999999999996" />
<line x1="49.0" y1="311.8" x2="625.0" y2="311.8" stroke="#fff000" stroke-width="5.0" />
<line x1="49.0" y1="311.8" x2="625.0" y2="311.8" stroke="#ff4000" stroke-width="2.2" />
<line x1="72.3" y1="314.5" x2="587.5" y2="314.5" stroke="#fff" stroke-width="0.9" />
<line x1="94.0" y1="150.7" x2="149.0" y2="150.7" stroke="#ffff00" stroke-width="1.6" />
<line x1="18.7" y1="81.5" x2="18.7" y2="158.5" stroke="#e8e800" stroke-width="1.3" />
<line x1="17.9" y1="166.0" x2="17.9" y2="320.5" stroke="#ff0000" stroke-width="1.6" />
<line x1="19.3" y1="166.0" x2="19.3" y2="320.5" stroke="#ffff00" stroke-width="1.0" />
<path d="M16,77.6 H6.8 Q3.8,77.6 3.8,80.6 V79.2 Q3.8,82.2 6.8,82.2 H16" stroke="#f00000" stroke-width="1.4" fill="none" />
<path d="M17,158.5 H8.5 Q5.5,158.5 5.5,161.5 V163.2 Q5.5,166.2 8.5,166.2 H17" stroke="#f00000" stroke-width="1.4" fill="none" />
<path d="M17,239 H7.6 Q4.6,239 4.6,242 V243.2 Q4.6,246.2 7.6,246.2 H17" stroke="#f00000" stroke-width="1.4" fill="none" />
<line x1="639.2" y1="81.5" x2="639.2" y2="266.0" stroke="#ffff00" stroke-width="1.1" />
<line x1="641.8" y1="81.5" x2="641.8" y2="266.0" stroke="#ff0000" stroke-width="1.8" />
<ellipse cx="641.2" cy="162.0" rx="1.2" ry="2.6" stroke="#fff" stroke-width="0.8" fill="none" />
<ellipse cx="641.2" cy="269.5" rx="1.2" ry="2.6" stroke="#fff" stroke-width="0.8" fill="none" />
<ellipse cx="17.2" cy="162.3" rx="1.2" ry="2.8" stroke="#fff" stroke-width="0.8" fill="none" />
<ellipse cx="17.2" cy="242.6" rx="1.2" ry="2.8" stroke="#fff" stroke-width="0.8" fill="none" />
<path d="M23,77.6 L40.3,117 H48.6 L63.4,77.6" stroke="#dcdc00" stroke-width="1.5" fill="#000" />
<line x1="24.0" y1="77.6" x2="62.5" y2="77.6" stroke="#fff" stroke-width="1.4" />
<ellipse cx="44.2" cy="105.0" rx="4.6" ry="5.8" stroke="#0a34f0" stroke-width="1.6" fill="#041a78" />
<ellipse cx="44.2" cy="105.0" rx="2.2" ry="2.9" stroke="#0a34f0" stroke-width="0.9" fill="none" />
<path d="M44.2,94.2 V115.2 M36.5,105 H51.7" stroke="#0a34f0" stroke-width="1.7" fill="none" />
<line x1="611.2" y1="76.5" x2="597.3" y2="119.5" stroke="#10a8c8" stroke-width="1.1" />
<line x1="624.6" y1="78.0" x2="617.6" y2="131.0" stroke="#10a8c8" stroke-width="1.1" />
<line x1="614.3" y1="259.5" x2="631.0" y2="286.3" stroke="#10a8c8" stroke-width="1.1" />
<line x1="602.0" y1="271.5" x2="615.5" y2="303.0" stroke="#10a8c8" stroke-width="1.1" />
<line x1="40.2" y1="227.0" x2="36.9" y2="301.0" stroke="#10a8c8" stroke-width="1.1" />
<line x1="61.8" y1="228.0" x2="52.2" y2="303.8" stroke="#10a8c8" stroke-width="1.1" />
<path d="M22.2,243.9 L51.7,234.6 L48.9,279.8 H43.4 Z" stroke="#e8e800" stroke-width="1.2" fill="#0a5fd0" />
<path d="M605,151.4 L636,155.7 L607.8,200.5 L602.9,198.7 Z" stroke="#e8e800" stroke-width="1.2" fill="#0a5fd0" />
<ellipse cx="34.2" cy="134.6" rx="11.5" ry="15.6" stroke="#00e0e8" stroke-width="1.2" fill="#000" stroke-dasharray="4 2.5"/>
<ellipse cx="34.2" cy="134.6" rx="10.3" ry="14.2" stroke="#fff" stroke-width="1.7" fill="none" />
<path d="M26.800000000000004,140.0 H41.6 L40.2,143.2 H28.200000000000003 Z" stroke="#fff" stroke-width="0.8" fill="#fff" />
<path d="M31.800000000000004,139.79999999999998 V135.4 A2.4,3.2 0 0 1 36.6,135.4 V139.79999999999998" stroke="#fff" stroke-width="1.3" fill="none" />
<ellipse cx="52.6" cy="217.6" rx="11.0" ry="14.8" stroke="#00e0e8" stroke-width="1.2" fill="#000" stroke-dasharray="4 2.5"/>
<ellipse cx="52.6" cy="217.6" rx="9.8" ry="13.4" stroke="#fff" stroke-width="1.7" fill="none" />
<path d="M45.2,223.0 H60.0 L58.6,226.2 H46.6 Z" stroke="#fff" stroke-width="0.8" fill="#fff" />
<path d="M50.2,222.79999999999998 V218.4 A2.4,3.2 0 0 1 55.0,218.4 V222.79999999999998" stroke="#fff" stroke-width="1.3" fill="none" />
<ellipse cx="605.0" cy="135.0" rx="10.4" ry="14.3" stroke="#00e0e8" stroke-width="1.2" fill="#000" stroke-dasharray="4 2.5"/>
<ellipse cx="605.0" cy="135.0" rx="9.2" ry="12.9" stroke="#fff" stroke-width="1.7" fill="none" />
<path d="M597.6,140.4 H612.4 L611,143.6 H599 Z" stroke="#fff" stroke-width="0.8" fill="#fff" />
<path d="M602.6,140.2 V135.8 A2.4,3.2 0 0 1 607.4,135.8 V140.2" stroke="#fff" stroke-width="1.3" fill="none" />
<ellipse cx="622.2" cy="218.5" rx="10.8" ry="14.3" stroke="#00e0e8" stroke-width="1.2" fill="#000" stroke-dasharray="4 2.5"/>
<ellipse cx="622.2" cy="218.5" rx="9.6" ry="12.9" stroke="#fff" stroke-width="1.7" fill="none" />
<path d="M614.8000000000001,223.9 H629.6 L628.2,227.1 H616.2 Z" stroke="#fff" stroke-width="0.8" fill="#fff" />
<path d="M619.8000000000001,223.7 V219.3 A2.4,3.2 0 0 1 624.6,219.3 V223.7" stroke="#fff" stroke-width="1.3" fill="none" />
<ellipse cx="625.4" cy="298.3" rx="10.9" ry="13.9" stroke="#00e0e8" stroke-width="1.2" fill="#000" stroke-dasharray="4 2.5"/>
<ellipse cx="625.4" cy="298.3" rx="9.7" ry="12.5" stroke="#fff" stroke-width="1.7" fill="none" />
<path d="M618.0,303.7 H632.8 L631.4,306.90000000000003 H619.4 Z" stroke="#fff" stroke-width="0.8" fill="#fff" />
<path d="M623.0,303.5 V299.1 A2.4,3.2 0 0 1 627.8,299.1 V303.5" stroke="#fff" stroke-width="1.3" fill="none" />
<ellipse cx="36.0" cy="297.4" rx="10.6" ry="14.6" stroke="#d8f000" stroke-width="2.2" fill="none" />
<ellipse cx="36.0" cy="297.4" rx="9.2" ry="13.0" stroke="#80d000" stroke-width="0.6" fill="none" />
<path d="M31,302.6 H41 M33.4,302.4 V298.6 A2.6,3.2 0 0 1 38.6,298.6 V302.4" stroke="#fff" stroke-width="1.2" fill="none" />
<ellipse cx="44.3" cy="309.4" rx="6.9" ry="8.6" stroke="#10d8e8" stroke-width="1.3" fill="none" />
<line x1="629.0" y1="311.0" x2="642.5" y2="320.8" stroke="#e8e800" stroke-width="1.3" />
<ellipse cx="618.0" cy="72.2" rx="7.0" ry="8.9" stroke="#10d8e8" stroke-width="1.5" fill="none" />
<ellipse cx="618.0" cy="72.2" rx="1.6" ry="2.1" stroke="#fff" stroke-width="1" fill="#fff" />
<ellipse cx="607.8" cy="265.0" rx="7.4" ry="9.2" stroke="#10d8e8" stroke-width="1.5" fill="none" />
<ellipse cx="607.8" cy="265.0" rx="1.6" ry="2.1" stroke="#fff" stroke-width="1" fill="#fff" />
<rect x="624.3" y="333.5" width="19.2" height="41.5" stroke="#fff" stroke-width="1.4" fill="none" />
<line x1="139.7" y1="259.7" x2="220.5" y2="344.8" stroke="#e000e0" stroke-width="1.4" />
<line x1="164.5" y1="301.3" x2="171.0" y2="342.6" stroke="#e000e0" stroke-width="1.4" />
<text x="177.5" y="19.7" font-size="10.5" textLength="35.0" lengthAdjust="spacingAndGlyphs" fill="#fff" stroke="#fff" stroke-width="0.35" font-weight="normal" font-family='"Liberation Sans","Noto Sans CJK SC",sans-serif' >排湿风机</text>
<text x="385.5" y="19.7" font-size="10.5" textLength="34.5" lengthAdjust="spacingAndGlyphs" fill="#fff" stroke="#fff" stroke-width="0.35" font-weight="normal" font-family='"Liberation Sans","Noto Sans CJK SC",sans-serif' >排湿风机</text>
<text x="12.5" y="62.2" font-size="10.5" textLength="17.0" lengthAdjust="spacingAndGlyphs" fill="#fff" stroke="#fff" stroke-width="0.35" font-weight="normal" font-family='"Liberation Sans","Noto Sans CJK SC",sans-serif' >加料</text>
<text x="32.1" y="59.5" font-size="6.9" textLength="6.2" lengthAdjust="spacingAndGlyphs" fill="#fff" stroke="#fff" stroke-width="0.35" font-weight="normal" font-family='"Liberation Sans","Noto Sans CJK SC",sans-serif' >口</text>
<text x="53.5" y="67.7" font-size="10.5" textLength="16.5" lengthAdjust="spacingAndGlyphs" fill="#fff" stroke="#fff" stroke-width="0.35" font-weight="normal" font-family='"Liberation Sans","Noto Sans CJK SC",sans-serif' >排湿</text>
<text x="72.5" y="65.0" font-size="6.9" textLength="6.0" lengthAdjust="spacingAndGlyphs" fill="#fff" stroke="#fff" stroke-width="0.35" font-weight="normal" font-family='"Liberation Sans","Noto Sans CJK SC",sans-serif' >口</text>
<text x="367.5" y="64.7" font-size="10.5" textLength="16.5" lengthAdjust="spacingAndGlyphs" fill="#fff" stroke="#fff" stroke-width="0.35" font-weight="normal" font-family='"Liberation Sans","Noto Sans CJK SC",sans-serif' >排湿</text>
<text x="386.5" y="62.0" font-size="6.9" textLength="6.0" lengthAdjust="spacingAndGlyphs" fill="#fff" stroke="#fff" stroke-width="0.35" font-weight="normal" font-family='"Liberation Sans","Noto Sans CJK SC",sans-serif' >口</text>
<text x="589.5" y="67.7" font-size="10.5" textLength="17.5" lengthAdjust="spacingAndGlyphs" fill="#fff" stroke="#fff" stroke-width="0.35" font-weight="normal" font-family='"Liberation Sans","Noto Sans CJK SC",sans-serif' >电机</text>
<text x="612.8" y="253.2" font-size="10.0" textLength="17.5" lengthAdjust="spacingAndGlyphs" fill="#fff" stroke="#fff" stroke-width="0.35" font-weight="normal" font-family='"Liberation Sans","Noto Sans CJK SC",sans-serif' >电机</text>
<text x="24.0" y="343.2" font-size="10.0" textLength="16.0" lengthAdjust="spacingAndGlyphs" fill="#fff" stroke="#fff" stroke-width="0.35" font-weight="normal" font-family='"Liberation Sans","Noto Sans CJK SC",sans-serif' >电机</text>
<text x="591.5" y="352.2" font-size="10.5" textLength="16.8" lengthAdjust="spacingAndGlyphs" fill="#fff" stroke="#fff" stroke-width="0.35" font-weight="normal" font-family='"Liberation Sans","Noto Sans CJK SC",sans-serif' >出料</text>
<text x="610.9" y="349.5" font-size="6.9" textLength="6.1" lengthAdjust="spacingAndGlyphs" fill="#fff" stroke="#fff" stroke-width="0.35" font-weight="normal" font-family='"Liberation Sans","Noto Sans CJK SC",sans-serif' >口</text>
<text x="170.5" y="357.2" font-size="10.0" textLength="16.5" lengthAdjust="spacingAndGlyphs" fill="#fff" stroke="#fff" stroke-width="0.35" font-weight="normal" font-family='"Liberation Sans","Noto Sans CJK SC",sans-serif' >热源</text>
<text x="223.5" y="353.7" font-size="10.5" textLength="34.5" lengthAdjust="spacingAndGlyphs" fill="#fff" stroke="#fff" stroke-width="0.35" font-weight="normal" font-family='"Liberation Sans","Noto Sans CJK SC",sans-serif' >循环风机</text>
<g fill="#fff" fill-opacity="0.55" font-family='"Liberation Sans","Noto Sans CJK SC",sans-serif' font-weight="900" font-size="60">
<text transform="translate(208,322.5) skewX(-8) scale(1,1.2)" x="0" y="0">利</text>
<text transform="translate(283,322.5) skewX(-8) scale(1,1.2)" x="0" y="0">邦</text>
<text transform="translate(358,322.5) skewX(-8) scale(1,1.2)" x="0" y="0">干</text>
<text transform="translate(431,322.5) skewX(-8) scale(1,1.2)" x="0" y="0">燥</text>
</g>
<rect x="56.5" y="344.6" width="60.0" height="33.8" stroke="#fff" stroke-width="1.35" fill="none" />
<line x1="76.8" y1="344.6" x2="76.8" y2="378.4" stroke="#fff" stroke-width="1.35" />
<line x1="96.5" y1="344.6" x2="96.5" y2="378.4" stroke="#fff" stroke-width="1.35" />
<line x1="103.6" y1="348.5" x2="109.0" y2="357.2" stroke="#f0f000" stroke-width="1.7" />
<line x1="105.6" y1="351.7" x2="107.0" y2="354.0" stroke="#ffffb0" stroke-width="2.0" />
<line x1="103.6" y1="356.8" x2="109.0" y2="365.5" stroke="#f0f000" stroke-width="1.7" />
<line x1="105.6" y1="360.0" x2="107.0" y2="362.3" stroke="#ffffb0" stroke-width="2.0" />
<line x1="103.6" y1="365.1" x2="109.0" y2="373.8" stroke="#f0f000" stroke-width="1.7" />
<line x1="105.6" y1="368.3" x2="107.0" y2="370.6" stroke="#ffffb0" stroke-width="2.0" />
<rect x="117.0" y="337.8" width="18.0" height="56.2" stroke="#fff" stroke-width="1.35" fill="none" />
<rect x="137.0" y="352.5" width="15.0" height="16.0" stroke="#fff" stroke-width="1.35" fill="none" rx="2.5"/>
<line x1="138.2" y1="355.3" x2="150.8" y2="355.3" stroke="#fff" stroke-width="1.0" />
<line x1="138.2" y1="358.7" x2="150.8" y2="358.7" stroke="#fff" stroke-width="1.0" />
<line x1="138.2" y1="362.1" x2="150.8" y2="362.1" stroke="#fff" stroke-width="1.0" />
<line x1="138.2" y1="365.5" x2="150.8" y2="365.5" stroke="#fff" stroke-width="1.0" />
<rect x="138.0" y="370.4" width="12.6" height="27.6" stroke="#fff" stroke-width="1.35" fill="none" />
<path d="M140.5,398 V372.6 H148.3 V398" stroke="#fff" stroke-width="1.35" fill="none" />
<line x1="135.0" y1="361.0" x2="137.0" y2="361.0" stroke="#fff" stroke-width="1.35" />
<line x1="61.4" y1="378.4" x2="61.4" y2="552.8" stroke="#fff" stroke-width="1.35" />
<line x1="69.4" y1="378.4" x2="69.4" y2="552.8" stroke="#fff" stroke-width="1.35" />
<line x1="61.4" y1="552.8" x2="69.4" y2="552.8" stroke="#fff" stroke-width="1.35" />
<path d="M61.4,552.8 Q61.4,572.3 75.8,572.3 M69.4,552.8 Q69.4,562 75.8,562" stroke="#fff" stroke-width="1.35" fill="none" />
<line x1="86.0" y1="398.7" x2="86.0" y2="642.3" stroke="#fff" stroke-width="1.35" />
<line x1="88.8" y1="402.7" x2="88.8" y2="636.0" stroke="#fff" stroke-width="1.35" />
<line x1="197.6" y1="398.7" x2="197.6" y2="636.0" stroke="#fff" stroke-width="1.35" />
<line x1="199.5" y1="402.7" x2="199.5" y2="636.0" stroke="#fff" stroke-width="1.35" />
<line x1="216.6" y1="398.7" x2="216.6" y2="636.0" stroke="#fff" stroke-width="1.35" />
<line x1="219.6" y1="398.7" x2="219.6" y2="642.3" stroke="#fff" stroke-width="1.35" />
<line x1="86.0" y1="398.7" x2="219.6" y2="398.7" stroke="#fff" stroke-width="1.35" />
<line x1="88.8" y1="402.7" x2="216.6" y2="402.7" stroke="#fff" stroke-width="1.35" />
<line x1="88.8" y1="636.0" x2="216.6" y2="636.0" stroke="#fff" stroke-width="1.35" />
<line x1="86.0" y1="642.3" x2="219.6" y2="642.3" stroke="#fff" stroke-width="1.35" />
<line x1="88.8" y1="476.6" x2="216.6" y2="476.6" stroke="#fff" stroke-width="1.35" />
<line x1="88.8" y1="479.7" x2="216.6" y2="479.7" stroke="#fff" stroke-width="1.35" />
<line x1="88.8" y1="483.5" x2="216.6" y2="483.5" stroke="#fff" stroke-width="1.35" />
<line x1="88.8" y1="557.6" x2="216.6" y2="557.6" stroke="#fff" stroke-width="1.35" />
<line x1="88.8" y1="561.3" x2="216.6" y2="561.3" stroke="#fff" stroke-width="1.35" />
<rect x="69.4" y="402.7" width="16.6" height="9.3" stroke="#fff" stroke-width="1.35" fill="none" />
<line x1="75.8" y1="402.7" x2="75.8" y2="412.0" stroke="#fff" stroke-width="1.35" />
<line x1="78.6" y1="403.8" x2="83.2" y2="411.0" stroke="#e8e800" stroke-width="1.3" />
<line x1="87.2" y1="403.0" x2="87.2" y2="412.4" stroke="#20e020" stroke-width="1.6" />
<line x1="90.0" y1="440.2" x2="194.3" y2="440.2" stroke="#fff" stroke-width="2.2" />
<line x1="90.0" y1="440.2" x2="194.3" y2="440.2" stroke="#20e020" stroke-width="2.2" stroke-dasharray="0.7 8.3"/>
<rect x="87.6" y="444.4" width="106.0" height="14.2" stroke="none" stroke-width="0" fill="#f4f400" />
<rect x="89.6" y="446.3" width="104.0" height="10.2" stroke="none" stroke-width="0" fill="#08e808" />
<line x1="90.0" y1="447.2" x2="193.0" y2="447.2" stroke="#10b010" stroke-width="0.8" stroke-dasharray="1 1"/>
<line x1="90.0" y1="455.6" x2="193.0" y2="455.6" stroke="#10b010" stroke-width="0.8" stroke-dasharray="1 1"/>
<line x1="92.0" y1="458.4" x2="193.0" y2="467.0" stroke="#dcdc00" stroke-width="1.3" />
<line x1="90.0" y1="468.8" x2="194.3" y2="468.8" stroke="#fff" stroke-width="2.2" />
<line x1="90.0" y1="468.8" x2="194.3" y2="468.8" stroke="#20e020" stroke-width="2.2" stroke-dasharray="0.7 8.3"/>
<line x1="90.3" y1="437.0" x2="90.3" y2="445.0" stroke="#20e020" stroke-width="1.2" />
<line x1="90.3" y1="458.0" x2="90.3" y2="470.0" stroke="#20e020" stroke-width="1.2" />
<ellipse cx="91.5" cy="454.4" rx="1.2" ry="1.4" stroke="#20e0e0" stroke-width="1" fill="#20e0e0" />
<line x1="82.0" y1="447.6" x2="82.0" y2="456.2" stroke="#fff" stroke-width="1.8" />
<line x1="82.0" y1="452.0" x2="87.0" y2="452.0" stroke="#fff" stroke-width="1.6" />
<line x1="194.6" y1="437.0" x2="194.6" y2="470.0" stroke="#e8e800" stroke-width="1.0" />
<ellipse cx="197.5" cy="451.5" rx="1.1" ry="1.6" stroke="#fff" stroke-width="0.8" fill="none" />
<ellipse cx="197.5" cy="468.5" rx="1.1" ry="1.6" stroke="#fff" stroke-width="0.8" fill="none" />
<line x1="197.0" y1="432.0" x2="194.5" y2="441.0" stroke="#fff" stroke-width="0.9" />
<path d="M203.5,403 V437.8 H216.6" stroke="#fff" stroke-width="1.35" fill="none" />
<path d="M203.5,406 L215.5,414.4 V425.5 L203.5,434.4" stroke="#fff" stroke-width="1.35" fill="none" />
<line x1="213.5" y1="419.5" x2="221.6" y2="419.5" stroke="#fff" stroke-width="1.3" />
<rect x="221.6" y="411.2" width="17.0" height="17.0" stroke="#fff" stroke-width="1.35" fill="none" rx="3"/>
<line x1="224.4" y1="411.6" x2="224.4" y2="427.8" stroke="#fff" stroke-width="0.9" />
<line x1="227.3" y1="411.6" x2="227.3" y2="427.8" stroke="#fff" stroke-width="0.9" />
<line x1="230.2" y1="411.6" x2="230.2" y2="427.8" stroke="#fff" stroke-width="0.9" />
<line x1="233.1" y1="411.6" x2="233.1" y2="427.8" stroke="#fff" stroke-width="0.9" />
<line x1="236.0" y1="411.6" x2="236.0" y2="427.8" stroke="#fff" stroke-width="0.9" />
<text x="224.8" y="443.6" font-size="10.6" textLength="34.2" lengthAdjust="spacingAndGlyphs" fill="#fff" stroke="#fff" stroke-width="0.35" font-weight="normal" font-family='"Liberation Sans","Noto Sans CJK SC",sans-serif' >循环风机</text>
<text x="30.5" y="412.5" font-size="10.3" textLength="16.5" lengthAdjust="spacingAndGlyphs" fill="#fff" stroke="#fff" stroke-width="0.35" font-weight="normal" font-family='"Liberation Sans","Noto Sans CJK SC",sans-serif' >排湿</text>
<text x="49.5" y="409.9" font-size="6.8" textLength="6.0" lengthAdjust="spacingAndGlyphs" fill="#fff" stroke="#fff" stroke-width="0.35" font-weight="normal" font-family='"Liberation Sans","Noto Sans CJK SC",sans-serif' >口</text>
<text x="73.2" y="427.0" font-size="10.4" textLength="8.0" lengthAdjust="spacingAndGlyphs" fill="#fff" stroke="#fff" stroke-width="0.35" font-weight="normal" font-family='"Liberation Sans","Noto Sans CJK SC",sans-serif' >热</text>
<text x="73.2" y="438.8" font-size="10.0" textLength="8.0" lengthAdjust="spacingAndGlyphs" fill="#fff" stroke="#fff" stroke-width="0.35" font-weight="normal" font-family='"Liberation Sans","Noto Sans CJK SC",sans-serif' >源</text>
<rect x="69.4" y="483.7" width="16.6" height="9.3" stroke="#fff" stroke-width="1.35" fill="none" />
<line x1="75.8" y1="483.7" x2="75.8" y2="493.0" stroke="#fff" stroke-width="1.35" />
<line x1="78.6" y1="484.8" x2="83.2" y2="492.0" stroke="#e8e800" stroke-width="1.3" />
<line x1="87.2" y1="484.0" x2="87.2" y2="493.4" stroke="#20e020" stroke-width="1.6" />
<line x1="90.0" y1="521.2" x2="194.3" y2="521.2" stroke="#fff" stroke-width="2.2" />
<line x1="90.0" y1="521.2" x2="194.3" y2="521.2" stroke="#20e020" stroke-width="2.2" stroke-dasharray="0.7 8.3"/>
<rect x="87.6" y="525.4" width="106.0" height="14.2" stroke="none" stroke-width="0" fill="#f4f400" />
<rect x="89.6" y="527.3" width="104.0" height="10.2" stroke="none" stroke-width="0" fill="#08e808" />
<line x1="90.0" y1="528.2" x2="193.0" y2="528.2" stroke="#10b010" stroke-width="0.8" stroke-dasharray="1 1"/>
<line x1="90.0" y1="536.6" x2="193.0" y2="536.6" stroke="#10b010" stroke-width="0.8" stroke-dasharray="1 1"/>
<line x1="92.0" y1="539.4" x2="193.0" y2="548.0" stroke="#dcdc00" stroke-width="1.3" />
<line x1="90.0" y1="549.8" x2="194.3" y2="549.8" stroke="#fff" stroke-width="2.2" />
<line x1="90.0" y1="549.8" x2="194.3" y2="549.8" stroke="#20e020" stroke-width="2.2" stroke-dasharray="0.7 8.3"/>
<line x1="90.3" y1="518.0" x2="90.3" y2="526.0" stroke="#20e020" stroke-width="1.2" />
<line x1="90.3" y1="539.0" x2="90.3" y2="551.0" stroke="#20e020" stroke-width="1.2" />
<ellipse cx="91.5" cy="535.4" rx="1.2" ry="1.4" stroke="#20e0e0" stroke-width="1" fill="#20e0e0" />
<line x1="82.0" y1="528.6" x2="82.0" y2="537.2" stroke="#fff" stroke-width="1.8" />
<line x1="82.0" y1="533.0" x2="87.0" y2="533.0" stroke="#fff" stroke-width="1.6" />
<line x1="194.6" y1="518.0" x2="194.6" y2="551.0" stroke="#e8e800" stroke-width="1.0" />
<ellipse cx="197.5" cy="532.5" rx="1.1" ry="1.6" stroke="#fff" stroke-width="0.8" fill="none" />
<ellipse cx="197.5" cy="549.5" rx="1.1" ry="1.6" stroke="#fff" stroke-width="0.8" fill="none" />
<line x1="197.0" y1="513.0" x2="194.5" y2="522.0" stroke="#fff" stroke-width="0.9" />
<path d="M203.5,484 V518.8 H216.6" stroke="#fff" stroke-width="1.35" fill="none" />
<path d="M203.5,487 L215.5,495.4 V506.5 L203.5,515.4" stroke="#fff" stroke-width="1.35" fill="none" />
<line x1="213.5" y1="500.5" x2="221.6" y2="500.5" stroke="#fff" stroke-width="1.3" />
<rect x="221.6" y="492.2" width="17.0" height="17.0" stroke="#fff" stroke-width="1.35" fill="none" rx="3"/>
<line x1="224.4" y1="492.6" x2="224.4" y2="508.8" stroke="#fff" stroke-width="0.9" />
<line x1="227.3" y1="492.6" x2="227.3" y2="508.8" stroke="#fff" stroke-width="0.9" />
<line x1="230.2" y1="492.6" x2="230.2" y2="508.8" stroke="#fff" stroke-width="0.9" />
<line x1="233.1" y1="492.6" x2="233.1" y2="508.8" stroke="#fff" stroke-width="0.9" />
<line x1="236.0" y1="492.6" x2="236.0" y2="508.8" stroke="#fff" stroke-width="0.9" />
<text x="224.8" y="528.3" font-size="10.6" textLength="34.2" lengthAdjust="spacingAndGlyphs" fill="#fff" stroke="#fff" stroke-width="0.35" font-weight="normal" font-family='"Liberation Sans","Noto Sans CJK SC",sans-serif' >循环风机</text>
<text x="30.5" y="492.5" font-size="10.3" textLength="16.5" lengthAdjust="spacingAndGlyphs" fill="#fff" stroke="#fff" stroke-width="0.35" font-weight="normal" font-family='"Liberation Sans","Noto Sans CJK SC",sans-serif' >排湿</text>
<text x="49.5" y="489.9" font-size="6.8" textLength="6.0" lengthAdjust="spacingAndGlyphs" fill="#fff" stroke="#fff" stroke-width="0.35" font-weight="normal" font-family='"Liberation Sans","Noto Sans CJK SC",sans-serif' >口</text>
<text x="73.2" y="510.0" font-size="10.4" textLength="8.0" lengthAdjust="spacingAndGlyphs" fill="#fff" stroke="#fff" stroke-width="0.35" font-weight="normal" font-family='"Liberation Sans","Noto Sans CJK SC",sans-serif' >热</text>
<text x="73.2" y="521.8" font-size="10.0" textLength="8.0" lengthAdjust="spacingAndGlyphs" fill="#fff" stroke="#fff" stroke-width="0.35" font-weight="normal" font-family='"Liberation Sans","Noto Sans CJK SC",sans-serif' >源</text>
<rect x="75.8" y="561.3" width="10.2" height="10.3" stroke="#fff" stroke-width="1.35" fill="none" />
<line x1="78.6" y1="563.1" x2="83.2" y2="570.3" stroke="#e8e800" stroke-width="1.3" />
<line x1="87.2" y1="562.3" x2="87.2" y2="571.7" stroke="#20e020" stroke-width="1.6" />
<line x1="90.0" y1="600.0" x2="194.3" y2="600.0" stroke="#fff" stroke-width="2.2" />
<line x1="90.0" y1="600.0" x2="194.3" y2="600.0" stroke="#20e020" stroke-width="2.2" stroke-dasharray="0.7 8.3"/>
<rect x="87.6" y="604.2" width="106.0" height="14.2" stroke="none" stroke-width="0" fill="#f4f400" />
<rect x="89.6" y="606.1" width="104.0" height="10.2" stroke="none" stroke-width="0" fill="#08e808" />
<line x1="90.0" y1="607.0" x2="193.0" y2="607.0" stroke="#10b010" stroke-width="0.8" stroke-dasharray="1 1"/>
<line x1="90.0" y1="615.4" x2="193.0" y2="615.4" stroke="#10b010" stroke-width="0.8" stroke-dasharray="1 1"/>
<line x1="92.0" y1="618.2" x2="193.0" y2="626.8" stroke="#dcdc00" stroke-width="1.3" />
<line x1="90.0" y1="628.6" x2="194.3" y2="628.6" stroke="#fff" stroke-width="2.2" />
<line x1="90.0" y1="628.6" x2="194.3" y2="628.6" stroke="#20e020" stroke-width="2.2" stroke-dasharray="0.7 8.3"/>
<line x1="90.3" y1="596.8" x2="90.3" y2="604.8" stroke="#20e020" stroke-width="1.2" />
<line x1="90.3" y1="617.8" x2="90.3" y2="629.8" stroke="#20e020" stroke-width="1.2" />
<ellipse cx="91.5" cy="614.2" rx="1.2" ry="1.4" stroke="#20e0e0" stroke-width="1" fill="#20e0e0" />
<line x1="82.0" y1="607.4" x2="82.0" y2="616.0" stroke="#fff" stroke-width="1.8" />
<line x1="82.0" y1="611.8" x2="87.0" y2="611.8" stroke="#fff" stroke-width="1.6" />
<line x1="194.6" y1="596.8" x2="194.6" y2="629.8" stroke="#e8e800" stroke-width="1.0" />
<ellipse cx="197.5" cy="611.3" rx="1.1" ry="1.6" stroke="#fff" stroke-width="0.8" fill="none" />
<ellipse cx="197.5" cy="628.3" rx="1.1" ry="1.6" stroke="#fff" stroke-width="0.8" fill="none" />
<line x1="197.0" y1="591.8" x2="194.5" y2="600.8" stroke="#fff" stroke-width="0.9" />
<path d="M203.5,562.8 V597.6 H216.6" stroke="#fff" stroke-width="1.35" fill="none" />
<path d="M203.5,565.8 L215.5,574.2 V585.3 L203.5,594.2" stroke="#fff" stroke-width="1.35" fill="none" />
<line x1="213.5" y1="579.3" x2="221.6" y2="579.3" stroke="#fff" stroke-width="1.3" />
<rect x="221.6" y="571.0" width="17.0" height="17.0" stroke="#fff" stroke-width="1.35" fill="none" rx="3"/>
<line x1="224.4" y1="571.4" x2="224.4" y2="587.6" stroke="#fff" stroke-width="0.9" />
<line x1="227.3" y1="571.4" x2="227.3" y2="587.6" stroke="#fff" stroke-width="0.9" />
<line x1="230.2" y1="571.4" x2="230.2" y2="587.6" stroke="#fff" stroke-width="0.9" />
<line x1="233.1" y1="571.4" x2="233.1" y2="587.6" stroke="#fff" stroke-width="0.9" />
<line x1="236.0" y1="571.4" x2="236.0" y2="587.6" stroke="#fff" stroke-width="0.9" />
<text x="224.8" y="604.3" font-size="10.6" textLength="34.2" lengthAdjust="spacingAndGlyphs" fill="#fff" stroke="#fff" stroke-width="0.35" font-weight="normal" font-family='"Liberation Sans","Noto Sans CJK SC",sans-serif' >循环风机</text>
<text x="30.5" y="563.0" font-size="10.3" textLength="16.5" lengthAdjust="spacingAndGlyphs" fill="#fff" stroke="#fff" stroke-width="0.35" font-weight="normal" font-family='"Liberation Sans","Noto Sans CJK SC",sans-serif' >排湿</text>
<text x="49.5" y="560.4" font-size="6.8" textLength="6.0" lengthAdjust="spacingAndGlyphs" fill="#fff" stroke="#fff" stroke-width="0.35" font-weight="normal" font-family='"Liberation Sans","Noto Sans CJK SC",sans-serif' >口</text>
<text x="73.2" y="587.6" font-size="10.4" textLength="8.0" lengthAdjust="spacingAndGlyphs" fill="#fff" stroke="#fff" stroke-width="0.35" font-weight="normal" font-family='"Liberation Sans","Noto Sans CJK SC",sans-serif' >热</text>
<text x="73.2" y="599.4" font-size="10.0" textLength="8.0" lengthAdjust="spacingAndGlyphs" fill="#fff" stroke="#fff" stroke-width="0.35" font-weight="normal" font-family='"Liberation Sans","Noto Sans CJK SC",sans-serif' >源</text>
<text x="153.4" y="391.0" font-size="10.3" textLength="34.5" lengthAdjust="spacingAndGlyphs" fill="#fff" stroke="#fff" stroke-width="0.35" font-weight="normal" font-family='"Liberation Sans","Noto Sans CJK SC",sans-serif' >排湿风机</text>
<text transform="translate(318.6,381) scale(1,1.22)" x="0" y="0" font-size="15.4" font-weight="bold" fill="#fff" font-family='"Liberation Sans","Noto Sans CJK SC",sans-serif'>三</text>
<text transform="translate(347.4,381) scale(1,1.22)" x="0" y="0" font-size="15.4" font-weight="bold" fill="#fff" font-family='"Liberation Sans","Noto Sans CJK SC",sans-serif'>层</text>
<text transform="translate(376.2,381) scale(1,1.22)" x="0" y="0" font-size="15.4" font-weight="bold" fill="#fff" font-family='"Liberation Sans","Noto Sans CJK SC",sans-serif'>带</text>
<text transform="translate(405,381) scale(1,1.22)" x="0" y="0" font-size="15.4" font-weight="bold" fill="#fff" font-family='"Liberation Sans","Noto Sans CJK SC",sans-serif'>式</text>
<text transform="translate(433.8,381) scale(1,1.22)" x="0" y="0" font-size="15.4" font-weight="bold" fill="#fff" font-family='"Liberation Sans","Noto Sans CJK SC",sans-serif'>干</text>
<text transform="translate(462.6,381) scale(1,1.22)" x="0" y="0" font-size="15.4" font-weight="bold" fill="#fff" font-family='"Liberation Sans","Noto Sans CJK SC",sans-serif'>燥</text>
<text transform="translate(491.2,381) scale(1,1.22)" x="0" y="0" font-size="15.4" font-weight="bold" fill="#fff" font-family='"Liberation Sans","Noto Sans CJK SC",sans-serif'>机</text>
<rect x="278" y="398" width="64" height="28.2" fill="#00ff00"/>
<polygon points="278,398 342,398 339,401 281,401" fill="#00d800"/>
<polygon points="278,398 281,401 281,423.2 278,426.2" fill="#00f000"/>
<polygon points="342,398 342,426.2 339,423.2 339,401" fill="#008000"/>
<polygon points="278,426.2 281,423.2 339,423.2 342,426.2" fill="#007000"/>
<text x="279.6" y="416.7" font-size="12.5" textLength="61.0" lengthAdjust="spacingAndGlyphs" fill="#000" font-weight="bold" font-family='"Liberation Sans","Noto Sans CJK SC",sans-serif'>循环风机【开】</text>
<rect x="354" y="398" width="64" height="28.2" fill="#ff0000"/>
<polygon points="354,398 418,398 415,401 357,401" fill="#e86000"/>
<polygon points="354,398 357,401 357,423.2 354,426.2" fill="#e86000"/>
<polygon points="418,398 418,426.2 415,423.2 415,401" fill="#800000"/>
<polygon points="354,426.2 357,423.2 415,423.2 418,426.2" fill="#780000"/>
<text x="358.0" y="416.7" font-size="12.5" textLength="56.0" lengthAdjust="spacingAndGlyphs" fill="#000" font-weight="bold" font-family='"Liberation Sans","Noto Sans CJK SC",sans-serif'>循环风机【关】</text>
<rect x="278" y="432" width="64" height="28.2" fill="#00ff00"/>
<polygon points="278,432 342,432 339,435 281,435" fill="#00d800"/>
<polygon points="278,432 281,435 281,457.2 278,460.2" fill="#00f000"/>
<polygon points="342,432 342,460.2 339,457.2 339,435" fill="#008000"/>
<polygon points="278,460.2 281,457.2 339,457.2 342,460.2" fill="#007000"/>
<text x="286.0" y="450.7" font-size="12.5" textLength="8.0" lengthAdjust="spacingAndGlyphs" fill="#000" font-weight="bold" font-family='"Liberation Sans","Noto Sans CJK SC",sans-serif'>排</text>
<text x="307.5" y="450.7" font-size="12.5" textLength="32.5" lengthAdjust="spacingAndGlyphs" fill="#000" font-weight="bold" font-family='"Liberation Sans","Noto Sans CJK SC",sans-serif'>湿【开】</text>
<rect x="354" y="432" width="64" height="28.2" fill="#ff0000"/>
<polygon points="354,432 418,432 415,435 357,435" fill="#e86000"/>
<polygon points="354,432 357,435 357,457.2 354,460.2" fill="#e86000"/>
<polygon points="418,432 418,460.2 415,457.2 415,435" fill="#800000"/>
<polygon points="354,460.2 357,457.2 415,457.2 418,460.2" fill="#780000"/>
<text x="362.0" y="450.7" font-size="12.5" textLength="8.0" lengthAdjust="spacingAndGlyphs" fill="#000" font-weight="bold" font-family='"Liberation Sans","Noto Sans CJK SC",sans-serif'>排</text>
<text x="383.5" y="450.7" font-size="12.5" textLength="32.5" lengthAdjust="spacingAndGlyphs" fill="#000" font-weight="bold" font-family='"Liberation Sans","Noto Sans CJK SC",sans-serif'>湿【关】</text>
<rect x="278" y="465.6" width="64" height="28.2" fill="#00ff00"/>
<polygon points="278,465.6 342,465.6 339,468.6 281,468.6" fill="#00d800"/>
<polygon points="278,465.6 281,468.6 281,490.8 278,493.8" fill="#00f000"/>
<polygon points="342,465.6 342,493.8 339,490.8 339,468.6" fill="#008000"/>
<polygon points="278,493.8 281,490.8 339,490.8 342,493.8" fill="#007000"/>
<text x="286.0" y="484.3" font-size="12.5" textLength="8.0" lengthAdjust="spacingAndGlyphs" fill="#000" font-weight="bold" font-family='"Liberation Sans","Noto Sans CJK SC",sans-serif'>加</text>
<text x="307.5" y="484.3" font-size="12.5" textLength="32.5" lengthAdjust="spacingAndGlyphs" fill="#000" font-weight="bold" font-family='"Liberation Sans","Noto Sans CJK SC",sans-serif'>热【开】</text>
<rect x="354" y="465.6" width="64" height="28.2" fill="#ff0000"/>
<polygon points="354,465.6 418,465.6 415,468.6 357,468.6" fill="#e86000"/>
<polygon points="354,465.6 357,468.6 357,490.8 354,493.8" fill="#e86000"/>
<polygon points="418,465.6 418,493.8 415,490.8 415,468.6" fill="#800000"/>
<polygon points="354,493.8 357,490.8 415,490.8 418,493.8" fill="#780000"/>
<text x="361.0" y="484.3" font-size="12.5" textLength="8.0" lengthAdjust="spacingAndGlyphs" fill="#000" font-weight="bold" font-family='"Liberation Sans","Noto Sans CJK SC",sans-serif'>加</text>
<text x="383.5" y="484.3" font-size="12.5" textLength="32.5" lengthAdjust="spacingAndGlyphs" fill="#000" font-weight="bold" font-family='"Liberation Sans","Noto Sans CJK SC",sans-serif'>热【关】</text>
<rect x="431" y="398" width="64" height="28.2" fill="#00ff00"/>
<polygon points="431,398 495,398 492,401 434,401" fill="#00d800"/>
<polygon points="431,398 434,401 434,423.2 431,426.2" fill="#00f000"/>
<polygon points="495,398 495,426.2 492,423.2 492,401" fill="#008000"/>
<polygon points="431,426.2 434,423.2 492,423.2 495,426.2" fill="#007000"/>
<text x="443.0" y="416.7" font-size="12.5" textLength="43.0" lengthAdjust="spacingAndGlyphs" fill="#000" font-weight="bold" font-family='"Liberation Sans","Noto Sans CJK SC",sans-serif'>加料【开】</text>
<rect x="507.3" y="398" width="64" height="28.2" fill="#ff0000"/>
<polygon points="507.3,398 571.3,398 568.3,401 510.3,401" fill="#e86000"/>
<polygon points="507.3,398 510.3,401 510.3,423.2 507.3,426.2" fill="#e86000"/>
<polygon points="571.3,398 571.3,426.2 568.3,423.2 568.3,401" fill="#800000"/>
<polygon points="507.3,426.2 510.3,423.2 568.3,423.2 571.3,426.2" fill="#780000"/>
<text x="518.3" y="416.7" font-size="12.5" textLength="43.0" lengthAdjust="spacingAndGlyphs" fill="#000" font-weight="bold" font-family='"Liberation Sans","Noto Sans CJK SC",sans-serif'>加料【关】</text>
<rect x="431" y="432.4" width="64" height="28.2" fill="#00ff00"/>
<polygon points="431,432.4 495,432.4 492,435.4 434,435.4" fill="#00d800"/>
<polygon points="431,432.4 434,435.4 434,457.59999999999997 431,460.59999999999997" fill="#00f000"/>
<polygon points="495,432.4 495,460.59999999999997 492,457.59999999999997 492,435.4" fill="#008000"/>
<polygon points="431,460.59999999999997 434,457.59999999999997 492,457.59999999999997 495,460.59999999999997" fill="#007000"/>
<text x="443.0" y="451.1" font-size="12.5" textLength="43.0" lengthAdjust="spacingAndGlyphs" fill="#000" font-weight="bold" font-family='"Liberation Sans","Noto Sans CJK SC",sans-serif'>出料【开】</text>
<rect x="507.3" y="432.4" width="64" height="28.2" fill="#ff0000"/>
<polygon points="507.3,432.4 571.3,432.4 568.3,435.4 510.3,435.4" fill="#e86000"/>
<polygon points="507.3,432.4 510.3,435.4 510.3,457.59999999999997 507.3,460.59999999999997" fill="#e86000"/>
<polygon points="571.3,432.4 571.3,460.59999999999997 568.3,457.59999999999997 568.3,435.4" fill="#800000"/>
<polygon points="507.3,460.59999999999997 510.3,457.59999999999997 568.3,457.59999999999997 571.3,460.59999999999997" fill="#780000"/>
<text x="519.3" y="451.1" font-size="12.5" textLength="43.0" lengthAdjust="spacingAndGlyphs" fill="#000" font-weight="bold" font-family='"Liberation Sans","Noto Sans CJK SC",sans-serif'>出料【关】</text>
<rect x="315.7" y="522.2" width="65.3" height="28.8" fill="#00ff00"/>
<polygon points="315.7,522.2 381.0,522.2 378.0,525.2 318.7,525.2" fill="#00d800"/>
<polygon points="315.7,522.2 318.7,525.2 318.7,548.0 315.7,551.0" fill="#00f000"/>
<polygon points="381.0,522.2 381.0,551.0 378.0,548.0 378.0,525.2" fill="#008000"/>
<polygon points="315.7,551.0 318.7,548.0 378.0,548.0 381.0,551.0" fill="#007000"/>
<text x="336.7" y="541.2" font-size="12.5" textLength="8.0" lengthAdjust="spacingAndGlyphs" fill="#000" font-weight="bold" font-family='"Liberation Sans","Noto Sans CJK SC",sans-serif'>退</text>
<text x="348.7" y="541.2" font-size="12.5" textLength="8.0" lengthAdjust="spacingAndGlyphs" fill="#000" font-weight="bold" font-family='"Liberation Sans","Noto Sans CJK SC",sans-serif'>出</text>
</g>
</svg>
</body></html>
